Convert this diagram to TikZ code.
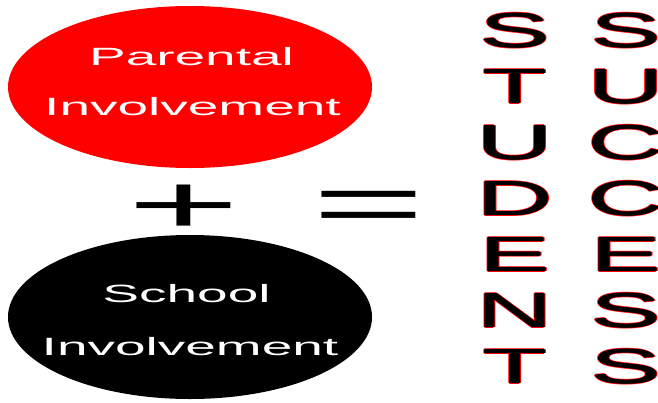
\documentclass[tikz,border=0pt]{standalone}
\usepackage{fontspec}
\setmainfont{Liberation Sans}
\usepackage{tikz}

\begin{document}
\begin{tikzpicture}[x=1pt, y=-1pt,
		tall/.style={anchor=base, inner sep=0pt, font=\fontsize{49}{49}\selectfont},
		circtext/.style={anchor=base, inner sep=0pt, text=white, font=\fontsize{25}{25}\selectfont},
		sign/.style={anchor=base, inner sep=0pt, font=\fontsize{84}{84}\selectfont}]
		\useasboundingbox (0,0) rectangle (658,402);
		
		% parental involvement
		\fill[red] (190,87) ellipse (182 and 81);
		\node[circtext] (parent1) at (191.5,65) {\scalebox{2.2}[1]{Parental}};
		\node[circtext] (parent2) at (192.5,115) {\scalebox{2.2}[1]{Involvement}};
		
		% school involvement
		\fill[black] (190,317) ellipse (182 and 82);
		\node[circtext] (school1) at (186.5,302) {\scalebox{2.2}[1]{School}};
		\node[circtext] (school2) at (190,355) {\scalebox{2.2}[1]{Involvement}};
		
		% plus and equals
		\node[sign] (plus) at (184,233) {\scalebox{2.3}[1]{+}};
		\node[sign] (equals) at (369,232) {\scalebox{2.3}[1]{=}};
		
		% student, written downwards (red rim, then black letter)
		\foreach \ch [count=\i from 0] in {S,T,U,D,E,N,T} {
			\foreach \dx/\dy [count=\k] in {1.2/0,-1.2/0,0/0.9,0/-0.9}
				\node[tall, text=red] (student-\i-\k) at ({515+(\dx)},{47.5+56*\i+(\dy)}) {\scalebox{2.15}[1]{\ch}};
			\foreach \dx [count=\k] in {0.6,-0.6}
				\node[tall] (student-\i-b\k) at ({515+(\dx)},{47.5+56*\i}) {\scalebox{2.15}[1]{\ch}};
			\node[tall] (student-\i) at (515,{47.5+56*\i}) {\scalebox{2.15}[1]{\ch}};
		}
		
		% success, written downwards
		\foreach \ch [count=\i from 0] in {S,U,C,C,E,S,S} {
			\foreach \dx/\dy [count=\k] in {1.2/0,-1.2/0,0/0.9,0/-0.9}
				\node[tall, text=red] (success-\i-\k) at ({626+(\dx)},{47.5+56*\i+(\dy)}) {\scalebox{2.15}[1]{\ch}};
			\foreach \dx [count=\k] in {0.6,-0.6}
				\node[tall] (success-\i-b\k) at ({626+(\dx)},{47.5+56*\i}) {\scalebox{2.15}[1]{\ch}};
			\node[tall] (success-\i) at (626,{47.5+56*\i}) {\scalebox{2.15}[1]{\ch}};
		}
		
	\end{tikzpicture}
\end{document}
